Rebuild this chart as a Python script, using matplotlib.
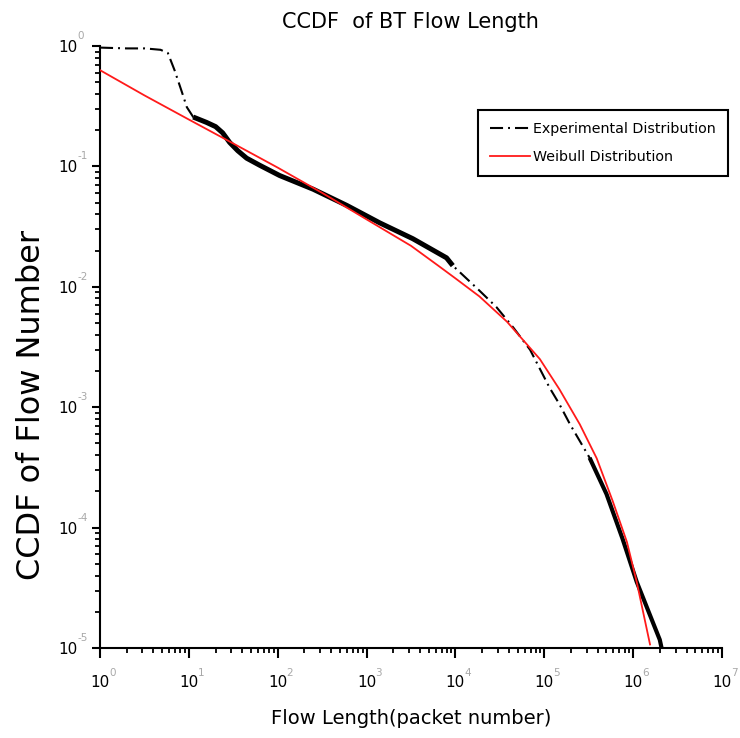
import matplotlib
matplotlib.use("Agg")
import matplotlib.pyplot as plt
import numpy as np
from matplotlib.ticker import LogLocator, FuncFormatter, NullFormatter

plt.rcParams['font.family'] = ['DejaVu Sans']
plt.rcParams['lines.scale_dashes'] = False

# ---- data ----
exp_x = np.array([1, 2, 3.2, 4.8, 5.8, 6.9, 8.3, 9.5, 11.2, 15.8, 20, 24, 28.8, 35.5,
                  44.7, 63, 105, 251, 603, 1413, 3311, 7943, 9333, 18620, 28840, 44670,
                  69180, 114800, 147900, 195000, 323600, 501200, 758600, 1096000,
                  1995000, 2089000])
exp_y = np.array([0.97, 0.955, 0.955, 0.93, 0.875, 0.63, 0.42, 0.31, 0.257, 0.232, 0.214,
                  0.19, 0.158, 0.135, 0.117, 0.102, 0.084, 0.0646, 0.0473, 0.0339, 0.0251,
                  0.0174, 0.0150, 0.0093, 0.0068, 0.0046, 0.0030, 0.00145, 0.00106,
                  0.00072, 0.00038, 0.00019, 0.000081, 0.0000355, 0.0000117, 0.00001])

weib_x = np.array([1, 3.16, 10, 31.6, 100, 316, 1000, 3162, 6310, 10000, 18620, 38020,
                   89130, 147900, 251200, 389000, 588800, 851100, 1096000, 1549000])
weib_y = np.array([0.63, 0.389, 0.245, 0.155, 0.0977, 0.0603, 0.0363, 0.0219, 0.0151,
                   0.01175, 0.00832, 0.00513, 0.00251, 0.00141, 0.00072, 0.000376,
                   0.000166, 0.0000759, 0.0000355, 0.0000107])

x_tick_exps = ['0', '1', '2', '3', '4', '5', '6', '7']
y_tick_exps = ['-5', '-4', '-3', '-2', '-1', '0']

title = 'CCDF  of BT Flow Length'
xlabel = 'Flow Length(packet number)'
ylabel = 'CCDF of Flow Number'
labels = ['Experimental Distribution', 'Weibull Distribution']

# ---- figure ----
W, H = 740, 738
fig = plt.figure(figsize=(W / 100, H / 100), dpi=100)
ax = fig.add_axes([100 / W, 1 - 648 / H, 622 / W, 602 / H])
ax.set_xscale('log')
ax.set_yscale('log')
ax.set_xlim(1, 1e7)
ax.set_ylim(1e-5, 1)

dash_dot = (0, (9.4, 3.6, 1.4, 3.6))
ax.plot(exp_x, exp_y, color='black', lw=1.5, linestyle=dash_dot, label=labels[0], zorder=3)
dense1 = (exp_x >= 11) & (exp_x <= 1e4)
dense2 = (exp_x >= 3e5)
ax.plot(exp_x[dense1], exp_y[dense1], color='black', lw=3.6, solid_capstyle='butt',
        solid_joinstyle='round', zorder=3)
ax.plot(exp_x[dense2], exp_y[dense2], color='black', lw=3.0, solid_capstyle='butt',
        solid_joinstyle='round', zorder=3)
ax.plot(weib_x, weib_y, color='#ff1a1a', lw=1.3, label=labels[1], zorder=4)

for s in ['top', 'right']:
    ax.spines[s].set_visible(False)
for s in ['left', 'bottom']:
    ax.spines[s].set_linewidth(1.5)

ax.xaxis.set_major_locator(LogLocator(base=10, numticks=20))
ax.yaxis.set_major_locator(LogLocator(base=10, numticks=20))
ax.xaxis.set_minor_locator(LogLocator(base=10, subs=np.arange(2, 10), numticks=20))
ax.yaxis.set_minor_locator(LogLocator(base=10, subs=np.arange(2, 10), numticks=20))
ax.xaxis.set_minor_formatter(NullFormatter())
ax.yaxis.set_minor_formatter(NullFormatter())
ax.xaxis.set_major_formatter(FuncFormatter(lambda v, p: '10'))
ax.yaxis.set_major_formatter(FuncFormatter(lambda v, p: '10'))

ax.tick_params(axis='x', which='major', direction='out', length=7.5, width=1.5, pad=12, labelsize=11)
ax.tick_params(axis='x', which='minor', direction='out', length=3.8, width=1.3)
ax.tick_params(axis='y', which='major', direction='out', length=6, width=1.5, pad=10.5, labelsize=11)
ax.tick_params(axis='y', which='minor', direction='out', length=3.8, width=1.3)

for e in x_tick_exps:
    ax.annotate(e, xy=(10.0 ** int(e), 0), xycoords=('data', 'axes fraction'),
                xytext=(9, -25), textcoords='offset pixels', fontsize=7.5,
                color='#a8a8a8', ha='left', va='center', annotation_clip=False)
for e in y_tick_exps:
    ax.annotate(e, xy=(0, 10.0 ** int(e)), xycoords=('axes fraction', 'data'),
                xytext=(-23, 10), textcoords='offset pixels', fontsize=7.5,
                color='#a8a8a8', ha='left', va='center', annotation_clip=False)

fig.text(410 / W, 1 - 22 / H, title, ha='center', va='center', fontsize=15)
ax.set_xlabel(xlabel, fontsize=14, va='center')
ax.xaxis.set_label_coords(0.5, -70 / 602)
ax.set_ylabel(ylabel, fontsize=23, va='center', ha='center')
ax.yaxis.set_label_coords(-68 / 622, (648 - 405) / 602)

leg = ax.legend(loc='upper left', bbox_to_anchor=(478 / W, 1 - 110 / H),
                bbox_transform=fig.transFigure, borderaxespad=0, fontsize=10.3,
                frameon=True, fancybox=False, handlelength=2.8, handletextpad=0.2,
                labelspacing=0.95, borderpad=0.85)
leg.get_frame().set_edgecolor('black')
leg.get_frame().set_linewidth(1.5)
leg.get_frame().set_alpha(1)

fig.savefig('out.png', dpi=100)
